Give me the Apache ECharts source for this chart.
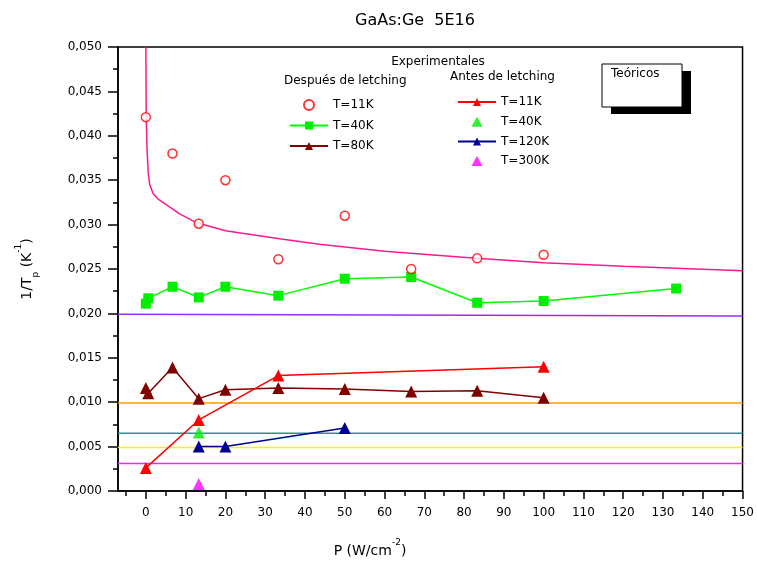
<!DOCTYPE html>
<html><head><meta charset="utf-8">
<script src="https://cdn.jsdelivr.net/npm/echarts@6/dist/echarts.min.js"></script>
<style>html,body{margin:0;padding:0;background:#fff}#c{width:757px;height:567px}</style>
</head><body><div id="c"></div>
<script>
// ---- data ----
const xMajorTicks=[0,10,20,30,40,50,60,70,80,90,100,110,120,130,140,150];
const xMinorTicks=[-5,5,15,25,35,45,55,65,75,85,95,105,115,125,135,145];

const dep11P=[0,6.7,13.3,20,33.3,50,66.7,83.3,100];
const dep11V=[0.0421,0.0380,0.0301,0.0350,0.0261,0.0310,0.0250,0.0262,0.0266];
const dep40P=[0,0.6,6.7,13.3,20,33.3,50,66.7,83.3,100,133.3];
const dep40V=[0.0211,0.0217,0.0230,0.0218,0.0230,0.0220,0.0239,0.0241,0.0212,0.0214,0.0228];
const dep80P=[0,0.6,6.7,13.3,20,33.3,50,66.7,83.3,100];
const dep80V=[0.0116,0.0110,0.0139,0.0104,0.0114,0.0116,0.0115,0.0112,0.0113,0.0105];

const ant11P=[0,13.3,33.3,100];
const ant11V=[0.0026,0.0080,0.0130,0.0140];
const ant40P=[13.3];
const ant40V=[0.0066];
const ant120P=[13.3,20,50];
const ant120V=[0.0050,0.0050,0.0071];
const ant300P=[13.3];
const ant300V=[0.0008];

const theoCurveP=[0,0.1,0.3,0.6,1.0,1.8,3.0,5.3,8.5,12.8,20,33.6,43.6,60,83,100,120,150];
const theoCurveV=[0.050,0.042,0.0385,0.0358,0.0345,0.0335,0.0329,0.0322,0.0312,0.0302,0.0293,0.0284,0.0278,0.0270,0.0262,0.0257,0.0253,0.0248];
const hLineP=[-7,150];
const theoPurpleV=[0.0199,0.0197];
const theoOrangeV=[0.0099,0.0099];
const theoTealV=[0.0065,0.0065];
const theoYellowV=[0.0049,0.0049];
const theoMagentaV=[0.0031,0.0031];

const zip=(a,b)=>a.map((x,i)=>[x,b[i]]);
const FONT='DejaVu Sans';
const TRI='path://M5,0 L10,9 L0,9 Z';

const chart=echarts.init(document.getElementById('c'));

function hline(v,color,w){
  return {type:'line',data:zip(hLineP,v),symbol:'none',lineStyle:{color:color,width:w||1.5},silent:true,z:1,xAxisIndex:0};
}

chart.setOption({
  backgroundColor:'#fff',
  animation:false,
  title:{text:'GaAs:Ge  5E16',left:410,top:8,textAlign:'center',textStyle:{fontFamily:FONT,fontSize:16,fontWeight:'normal',color:'#000'}},
  grid:{left:118,right:13,top:47,bottom:76,show:true,borderColor:'#000',borderWidth:1.5,containLabel:false},
  xAxis:[{
    type:'value',min:-7,max:150,position:'bottom',
    axisLine:{show:true,onZero:false,lineStyle:{color:'#000',width:1.5}},
    axisTick:{show:true,inside:false,length:8,customValues:xMajorTicks,lineStyle:{color:'#000',width:1.5}},
    axisLabel:{customValues:xMajorTicks,color:'#000',fontFamily:FONT,fontSize:12,margin:16},
    splitLine:{show:false}
  },{
    type:'value',min:-7,max:150,position:'bottom',
    axisLine:{show:false,onZero:false},
    axisTick:{show:true,inside:false,length:5,customValues:xMinorTicks,lineStyle:{color:'#000',width:1.5}},
    axisLabel:{show:false},
    splitLine:{show:false}
  }],
  yAxis:{
    type:'value',min:0,max:0.05,interval:0.005,
    axisLine:{show:true,onZero:false,lineStyle:{color:'#000',width:1.5}},
    axisTick:{show:true,inside:false,length:10,lineStyle:{color:'#000',width:1.5}},
    minorTick:{show:true,splitNumber:2,length:5,lineStyle:{color:'#000',width:1.5}},
    axisLabel:{formatter:v=>v.toFixed(3).replace('.',','),color:'#000',fontFamily:FONT,fontSize:12,margin:16},
    splitLine:{show:false},
    name:'1/T{sub|p} (K{sup|-1})',nameLocation:'middle',nameGap:84,nameRotate:90,
    nameTextStyle:{fontFamily:FONT,fontSize:14,color:'#000',rich:{sub:{fontSize:9,verticalAlign:'bottom',padding:[0,0,-6,0],fontFamily:FONT},sup:{fontSize:9,verticalAlign:'top',padding:[-6,0,0,0],fontFamily:FONT}}}
  },
  legend:[{
    data:['T=11K','T=40K','T=80K'],orient:'vertical',left:284,top:94,itemWidth:38,itemHeight:10,itemGap:8.5,
    textStyle:{fontFamily:FONT,fontSize:12,color:'#000'}
  },{
    data:['T=11K ',{name:'T=40K ',icon:TRI},'T=120K',{name:'T=300K',icon:TRI}],
    orient:'vertical',left:452,top:91,itemWidth:38,itemHeight:10,itemGap:7.7,symbolKeepAspect:true,
    textStyle:{fontFamily:FONT,fontSize:12,color:'#000'}
  }],
  graphic:[
    {type:'text',style:{text:'Experimentales',x:438,y:56,textAlign:'center',font:'12px "DejaVu Sans"',fill:'#000'}},
    {type:'text',style:{text:'Después de letching',x:284,y:75,font:'12px "DejaVu Sans"',fill:'#000'}},
    {type:'text',style:{text:'Antes de letching',x:450,y:71,font:'12px "DejaVu Sans"',fill:'#000'}},
    {type:'rect',shape:{x:611,y:71,width:80,height:43},style:{fill:'#000'}},
    {type:'rect',shape:{x:602,y:64,width:80,height:43},style:{fill:'#fff',stroke:'#000',lineWidth:1}},
    {type:'text',style:{text:'Teóricos',x:611,y:68,font:'12px "DejaVu Sans"',fill:'#000'}},
    {type:'text',style:{text:'{n|P (W/cm}{sup|-2}{n|)}',x:370,y:551,textAlign:'center',textVerticalAlign:'middle',
      rich:{n:{fontSize:14,fontFamily:FONT,fill:'#000'},sup:{fontSize:9,fontFamily:FONT,verticalAlign:'top',padding:[-6,0,0,0],fill:'#000'}}}}
  ],
  series:[
    {type:'line',data:zip(theoCurveP,theoCurveV),symbol:'none',lineStyle:{color:'#ff1a8c',width:1.5},z:1},
    hline(theoPurpleV,'#9a2cff'),
    hline(theoOrangeV,'#ff9a00'),
    hline(theoTealV,'#2f8f8f'),
    hline(theoYellowV,'#f5f500'),
    hline(theoMagentaV,'#ff20ff'),
    {name:'T=11K',type:'scatter',data:zip(dep11P,dep11V),symbol:'circle',symbolSize:9,
      itemStyle:{color:'#fff',borderColor:'#ff0000',borderWidth:1.5},z:5},
    {name:'T=40K',type:'line',data:zip(dep40P,dep40V),symbol:'rect',symbolSize:10,
      itemStyle:{color:'#00ee00'},lineStyle:{color:'#00ff00',width:1.5},z:4},
    {name:'T=80K',type:'line',data:zip(dep80P,dep80V),symbol:'triangle',symbolSize:12,
      itemStyle:{color:'#800000'},lineStyle:{color:'#800000',width:1.5},z:4},
    {name:'T=11K ',type:'line',data:zip(ant11P,ant11V),symbol:'triangle',symbolSize:12,
      itemStyle:{color:'#ff0000'},lineStyle:{color:'#ff0000',width:1.5},z:4},
    {name:'T=40K ',type:'scatter',data:zip(ant40P,ant40V),symbol:'triangle',symbolSize:12,
      itemStyle:{color:'#00ee00'},z:5},
    {name:'T=120K',type:'line',data:zip(ant120P,ant120V),symbol:'triangle',symbolSize:12,
      itemStyle:{color:'#000090'},lineStyle:{color:'#000090',width:1.5},z:4},
    {name:'T=300K',type:'scatter',data:zip(ant300P,ant300V),symbol:'triangle',symbolSize:12,
      itemStyle:{color:'#ff00ff'},z:5}
  ]
});
</script></body></html>
